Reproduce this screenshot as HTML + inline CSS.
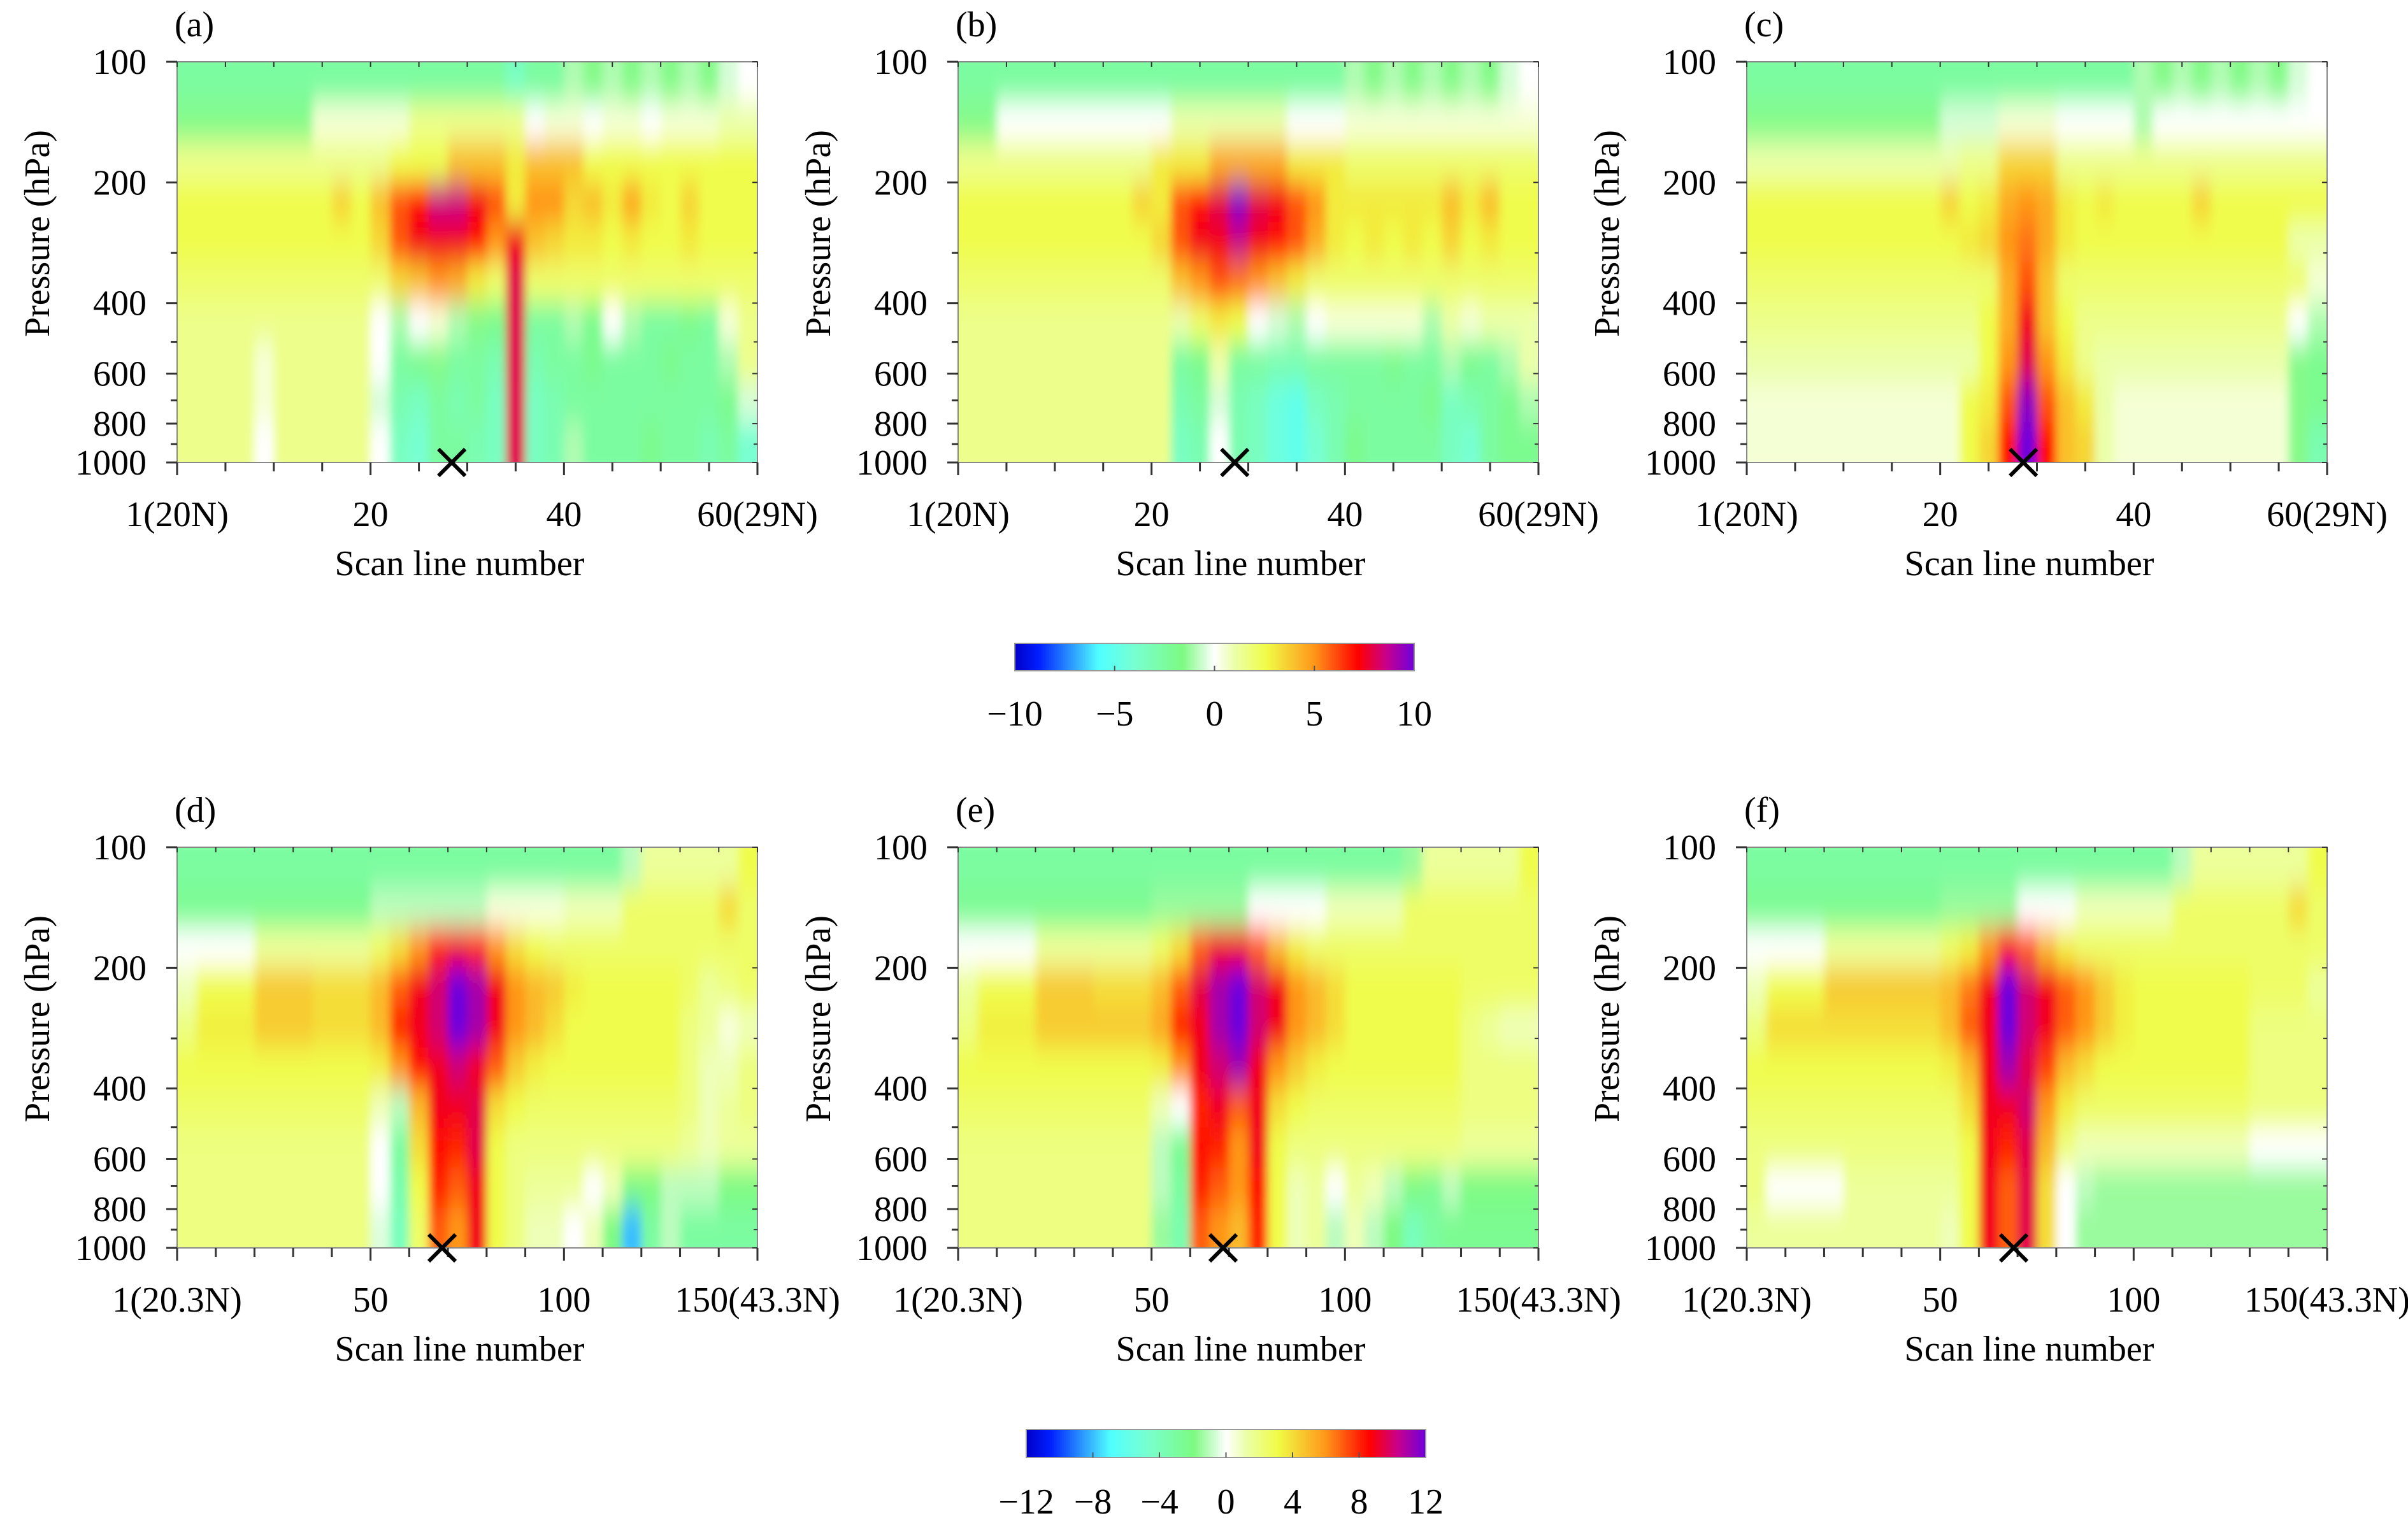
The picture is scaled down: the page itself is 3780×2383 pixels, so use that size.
<!DOCTYPE html>
<html><head><meta charset="utf-8"><style>
html,body{margin:0;padding:0;background:#fff;}
svg{display:block;}
svg text{font-family:"Liberation Serif","DejaVu Serif",serif;}
</style></head><body>
<svg id="fig" width="3780" height="2383" viewBox="0 0 3780 2383" xmlns="http://www.w3.org/2000/svg" font-family="Liberation Serif, DejaVu Serif, serif">
<defs>
<filter id="blur" x="0" y="0" width="1" height="1" filterUnits="objectBoundingBox"><feGaussianBlur stdDeviation="7 22" edgeMode="duplicate"/></filter>
</defs>
</svg>
<script>
// ---- data ----
const pressureTicks=[100,200,400,600,800,1000];
const pressureMinor=[300,500,700,900];
const topXTicks=[0,20,40,60];
const topXLabels=["1(20N)","20","40","60(29N)"];
const botXTicks=[0,50,100,150];
const botXLabels=["1(20.3N)","50","100","150(43.3N)"];
const cb1Ticks=[-10,-5,0,5,10];
const cb1Labels=["\u221210","\u22125","0","5","10"];
const cb2Ticks=[-12,-8,-4,0,4,8,12];
const cb2Labels=["\u221212","\u22128","\u22124","0","4","8","12"];
const markA=28.4, markB=28.6, markC=28.6, markD=68.5, markE=68.5, markF=69;
// rows: pressure bands top (100 hPa) -> bottom (1000 hPa); 30 columns each
const gridA=[
[-2.5,-2.5,-2.5,-2.5,-2.5,-2.5,-2.5,-2.5,-2.5,-2.5,-2.5,-2.5,-2.5,-2.5,-2.5,-2.5,-2.5,-3.5,-2.5,-2.5,-1,-1.5,-1,-1.5,-1,-1.5,-1,-1.5,-0.5,0],
[-1.5,-1.5,-1.5,-1.5,-1.5,-1.5,-1.5,0.5,0.5,0.5,0.5,0.5,1.5,1.5,1.5,1.5,1.5,1.5,0,0.5,0.5,0,0.5,0.5,0,0.5,0.5,0.5,1,1],
[1.5,1.5,1.5,1.5,1.5,1.5,1.5,1.5,1.5,1.5,1.5,2.5,2.5,2.5,4,4,4,3,4,4,4,2.5,2.5,2.5,2.5,2.5,2.5,2.5,2.5,2.5],
[2.5,2.5,2.5,2.5,2.5,2.5,2.5,2.5,3.5,2.5,4,6,7,8.5,8.5,7.5,6,3,5,5,3.5,4,3,4.5,3,2.5,3.5,2.5,2.5,2.5],
[2.5,2.5,2.5,2.5,2.5,2.5,2.5,2.5,2.5,2.5,3.5,6,7.5,7.5,7.5,7,5,7.5,4,3.5,3,3,2.5,3,2.5,2.5,3,2.5,2.5,2.5],
[2,2,2,2,2,2,2,2,2,2,2,3.5,4,5,4.5,3,2,8,2,2,2,2,2,2,2,2,2,2,2,2],
[1.5,1.5,1.5,1.5,1.5,1.5,1.5,1.5,1.5,1.5,0,-1,0,0.5,-1,-1.5,-2,8,-2.5,-2.5,-1,-2,0,-1,-2.5,-2.5,-2,-2.5,0.5,1.5],
[1.5,1.5,1.5,1.5,0.5,1.5,1.5,1.5,1.5,1.5,0,-2.5,-2,-1.5,-2.5,-2.5,-3,8,-3,-2.5,-2.5,-2,-2.5,-2.5,-2.5,-2,-2.5,-2.5,-1,1.5],
[1.5,1.5,1.5,1.5,0.5,1.5,1.5,1.5,1.5,1.5,-0.5,-3,-3.5,-2.5,-3,-2.5,-3.5,8,-3.5,-3,-2.5,-2.5,-2.5,-2.5,-2.5,-2.5,-2.5,-2.5,-2,-0.5],
[1.5,1.5,1.5,1.5,0,1.5,1.5,1.5,1.5,1.5,0,-3.5,-4,-2.5,-2.5,-3,-3.5,8,-3.5,-3,-1,-2.5,-2.5,-2.5,-2,-2.5,-2.5,-3,-2.5,-4]];
const gridB=[
[-2.5,-2.5,-2.5,-2.5,-2.5,-2.5,-2.5,-2.5,-2.5,-2.5,-2.5,-2.5,-2.5,-2.5,-2.5,-2.5,-2.5,-2.5,-2.5,-2.5,-1,-1.5,-1,-1.5,-1,-1.5,-1,-1.5,-0.5,0],
[-1.5,-1.5,0,0,0,0,0,0,0,0,0,1,1,1,1,1,1,0,0,0,0.5,0.5,0.5,0.5,0.5,0.5,0.5,0.5,0.5,0.5],
[1.5,1.5,1.5,1.5,1.5,1.5,1.5,1.5,1.5,1.5,3,3,3,4.5,4.5,4.5,4.5,3,3,3,2,2,2,2,2,2,2,2,2,2],
[2.5,2.5,2.5,2.5,2.5,2.5,2.5,2.5,2.5,3.5,3,6,7,8,9.5,8,7.5,6,5,3,3,3,3,3,3,4,3,4,2.5,2.5],
[2.5,2.5,2.5,2.5,2.5,2.5,2.5,2.5,2.5,2.5,3.5,6,7.5,7.5,8.5,7.5,7,6,4.5,3,2.5,3,2.5,3,2.5,3.5,2.5,3,2.5,2.5],
[2,2,2,2,2,2,2,2,2,2,2,4,5,6,5.5,5,4,3,2,2,2,2,2,2,2,2,2,2,2,2],
[1.5,1.5,1.5,1.5,1.5,1.5,1.5,1.5,1.5,1.5,1.5,1,2,3,2.5,0,-0.5,-1,0,0.5,0.5,0.5,0.5,0.5,-1,1,0.5,1,1,1],
[1.5,1.5,1.5,1.5,1.5,1.5,1.5,1.5,1.5,1.5,1.5,-2.5,-2,1,-2.5,-2.5,-3,-3,-2.5,-2.5,-2.5,-2.5,-2,-2.5,-2.5,-1,-2,-2.5,-1,1],
[1.5,1.5,1.5,1.5,1.5,1.5,1.5,1.5,1.5,1.5,1.5,-3,-2.5,-0.5,-3,-3.5,-4.5,-5,-3.5,-3,-2.5,-2.5,-2.5,-2.5,-2,-3.5,-3,-2.5,-2,-1],
[1.5,1.5,1.5,1.5,1.5,1.5,1.5,1.5,1.5,1.5,1.5,-3.5,-3,0,-3,-3.5,-4.5,-5,-4,-3,-2,-2.5,-2.5,-2.5,-2.5,-3.5,-4,-2.5,-2,-2]];
const gridC=[
[-2.5,-2.5,-2.5,-2.5,-2.5,-2.5,-2.5,-2.5,-2.5,-2.5,-2.5,-2.5,-2.5,-2.5,-2.5,-2.5,-2.5,-2.5,-2.5,-2.5,-1,-1.5,-1,-1.5,-1,-1.5,-1,-1.5,-0.5,0],
[-1.5,-1.5,-1.5,-1.5,-1.5,-1.5,-1.5,-1.5,-1.5,-1.5,-0.5,-0.5,-0.5,0.5,0.5,0.5,0,0,0,0,-1,0,0,0,0,0,0,0,0,0],
[1,1,1,1,1,1,1,1,1,1,1,1.5,1.5,3.5,3.5,3.5,1.5,1.5,1.5,1.5,1.5,1.5,1.5,1.5,1.5,1.5,1.5,1.5,1.5,1.5],
[2.5,2.5,2.5,2.5,2.5,2.5,2.5,2.5,2.5,2.5,3.5,2.5,3,4.5,5,4.5,3,2.5,3,2.5,2.5,2.5,2.5,3.5,2.5,2.5,2.5,2.5,2.5,2.5],
[2.5,2.5,2.5,2.5,2.5,2.5,2.5,2.5,2.5,2.5,2.5,3,3.5,5,5.5,4.5,3,2.5,2.5,2.5,2.5,2.5,2.5,2.5,2.5,2.5,2.5,2.5,1,1],
[2,2,2,2,2,2,2,2,2,2,2,2,2,4.5,6,4,2,2,2,2,2,2,2,2,2,2,2,2,2,0.5],
[1.5,1.5,1.5,1.5,1.5,1.5,1.5,1.5,1.5,1.5,1.5,1.5,2.5,4.5,7.5,4,2.5,1.5,1.5,1.5,1.5,1.5,1.5,1.5,1.5,1.5,1.5,1.5,0,-1],
[1,1,1,1,1,1,1,1,1,1,1,1,2.5,5,8,5,3,1.5,1,1,1,1,1,1,1,1,1,1,-1.5,-2],
[0.5,0.5,0.5,0.5,0.5,0.5,0.5,0.5,0.5,0.5,0.5,2.5,3,6,9.5,6,4,3,1,0.5,0.5,0.5,0.5,0.5,0.5,0.5,0.5,0.5,-1.5,-2],
[0.5,0.5,0.5,0.5,0.5,0.5,0.5,0.5,0.5,0.5,0.5,2.5,3.5,7,10,7,4,3.5,1,0.5,0.5,0.5,0.5,0.5,0.5,0.5,0.5,0.5,-1.5,-3]];
const gridD=[
[-3,-3,-3,-3,-3,-3,-3,-3,-3,-3,-3,-3,-3,-3,-3,-3,-3,-3,-3,-3,-3,-3,-3,-1,1.5,1.5,1.5,1.5,1.5,3],
[-2.5,-2.5,-2.5,-2.5,-2.5,-2.5,-2.5,-2.5,-2.5,-2.5,-1,-1,-1,-1,-1,-1,0.5,0.5,0.5,0.5,1,1,1,2.5,2.5,2.5,2.5,2.5,4,2.5],
[0,0,0,0,1.5,1.5,1.5,1.5,1.5,1.5,2.5,4,6,8,9,8,6,4,3,2.5,2.5,2.5,2.5,2.5,2.5,2.5,2.5,2.5,2.5,2.5],
[1,3,3,3,4.5,4.5,4.5,4,4,4,5,7,9,10,12,11,9,6,5,4.5,3.5,3,3,3,3,3,2.5,1.5,2,2.5],
[2,3.5,3.5,3.5,4.5,4.5,4.5,4,4,4,5,8,9,10,12,11,9,6,5,4,3,3,3,3,3,3,2,1.5,0.5,1],
[3,3,3,3,3,3,3,3,3,3,3.5,6,8.5,9,10,9,7,4.5,3.5,3,3,3,3,3,3,3,2,1,1,2],
[2.5,2.5,2.5,2.5,2.5,2.5,2.5,2.5,2.5,2.5,1,-1,5,9,9,9.5,4,3,2.5,2.5,2.5,2.5,2.5,2.5,2.5,2.5,2,1,1.5,2],
[2,2,2,2,2,2,2,2,2,2,0,-3,4,8.5,8,9.5,3,2,2,2,2,2,2,2,2,2,1.5,1,1.5,1.5],
[2,2,2,2,2,2,2,2,2,2,0,-3.5,3,8,7,9,3,2,1.5,1.5,1.5,0,1,-2,-2,-1,-1,-1,-2,-2],
[2,2,2,2,2,2,2,2,2,2,-0.5,-4,2.5,7,6,9,3,2,1,1,0,1,-2,-8,-3,-1,-3,-3,-3,-3]];
const gridE=[
[-3,-3,-3,-3,-3,-3,-3,-3,-3,-3,-3,-3,-3,-3,-3,-3,-3,-3,-3,-3,-3,-3,-3,-1.5,1.5,1.5,1.5,1.5,1.5,3],
[-2.5,-2.5,-2.5,-2.5,-2.5,-2.5,-2.5,-2.5,-2.5,-2.5,-1.5,-1.5,-1.5,-1.5,-1.5,0,0,0,0,1,1,1,1,2.5,2.5,2.5,2.5,2.5,2.5,2.5],
[0,0,0,0,1.5,1.5,1.5,1.5,1.5,1.5,2.5,4,7,9,9,7,5,3.5,2.5,2.5,2.5,2.5,2.5,2.5,2.5,2.5,2.5,2.5,2.5,2.5],
[1.5,3,3,3,4.5,4.5,4.5,4,4,4,5,7,9.5,11,12,10,9,6,5,4,3,3,3,3,3,3,2.5,2.5,2.5,2.5],
[2,3.5,3.5,3.5,4.5,4.5,4.5,4.5,4.5,4.5,5.5,8,9,11,12,10,9,6,5,4,3,3,3,3,3,3,2,1.5,1,1],
[3,3,3,3,3,3,3,3,3,3,3.5,6,9,10,11,9,6,4.5,3.5,3,3,3,3,3,3,3,2,2,2,2],
[2.5,2.5,2.5,2.5,2.5,2.5,2.5,2.5,2.5,2.5,1,0,8,9,7,9,4,3,2.5,2.5,2.5,2.5,2.5,2.5,2.5,2.5,2,2,2,2],
[2,2,2,2,2,2,2,2,2,2,-1,-2.5,8.5,8,6,9,3,2,2,2,2,2,2,2,2,2,1.5,1.5,1.5,1.5],
[2,2,2,2,2,2,2,2,2,2,-1,-3,8,7,6,8.5,3,1,1.5,0,1.5,1,-1,-2,-2.5,-1,-2,-2,-2,-2],
[2,2,2,2,2,2,2,2,2,2,-1.5,-3.5,7,6,5,8,3,1,1.5,-1,1,-1,-2,-4,-3,-2.5,-2.5,-2.5,-2.5,-2.5]];
const gridF=[
[-3,-3,-3,-3,-3,-3,-3,-3,-3,-3,-3,-3,-3,-3,-3,-3,-3,-3,-3,-3,-3,-3,-1,1.5,1.5,1.5,1.5,1.5,1.5,3],
[-2.5,-2.5,-2.5,-2.5,-2.5,-2.5,-2.5,-2.5,-2.5,-2.5,-1.5,-1.5,-1.5,-1.5,0,0,0,1,1,1,1,1,2.5,2.5,2.5,2.5,2.5,2.5,4,2.5],
[0,0,0,0,1.5,1.5,1.5,1.5,1.5,1.5,2.5,3.5,6,8.5,7,5,3.5,2.5,2.5,2.5,2.5,2.5,2.5,2.5,2.5,2.5,2.5,2.5,2.5,2.5],
[1,3,3,3,4.5,4.5,4.5,4.5,4.5,4.5,5,6.5,9,12,10,9,7,6,4.5,3.5,3,3,3,3,3,3,2.5,2.5,2.5,1.5],
[2,4,4,4,4,4,4,4,4,4,5,7,9,12,10,9,7,6,4.5,3.5,3,3,3,3,3,3,2,2,2,2],
[3,3,3,3,3,3,3,3,3,3,3.5,5,9,11,9.5,7.5,5,4,3,3,3,3,3,3,3,3,2,2,2,2],
[2.5,2.5,2.5,2.5,2.5,2.5,2.5,2.5,2.5,2.5,2.5,4,9,9,10,6,3.5,2.5,2.5,2.5,2.5,2.5,2.5,2.5,2.5,2.5,2,2,2,2],
[2,2,2,2,2,2,2,2,2,2,2,3,9,8,9.5,5,2,1,1,1,1,1,1,1,1,1,0,0,0,0],
[2,0,0,0,0,1.5,1.5,1.5,1.5,1.5,1.5,3,9,7,9.5,4,0,-1,-1.5,-1.5,-1.5,-1.5,-1.5,-1.5,-1.5,-1.5,-1.5,-1.5,-1.5,-1.5],
[1.5,1.5,1.5,1.5,1.5,1.5,1.5,1.5,1.5,1.5,1,3,9,7,9.5,4,0,-1.5,-1.5,-1.5,-1.5,-1.5,-1.5,-1.5,-1.5,-1.5,-1.5,-1.5,-1.5,-1.5]];

// ---- rendering ----
const NS="http://www.w3.org/2000/svg";
const FONT='"Liberation Serif","DejaVu Serif",serif';
const svg=document.getElementById('fig');
const stops=[[0,[0,0,200]],[0.06,[0,30,255]],[0.21,[80,255,255]],[0.3,[120,255,210]],[0.42,[125,250,130]],[0.5,[255,255,255]],[0.55,[235,255,170]],[0.63,[240,252,70]],[0.75,[255,150,25]],[0.86,[255,0,0]],[0.93,[200,0,140]],[1,[110,0,220]]];
function cmap(f){f=Math.max(0,Math.min(1,f));for(let i=1;i<stops.length;i++){if(f<=stops[i][0]){const a=stops[i-1],b=stops[i];const t=(f-a[0])/(b[0]-a[0]);const c=a[1].map((v,k)=>Math.round(v+(b[1][k]-v)*t));return `rgb(${c[0]},${c[1]},${c[2]})`;}}return 'rgb(110,0,220)';}
function el(tag,attrs,parent){const e=document.createElementNS(NS,tag);for(const k in attrs)e.setAttribute(k,attrs[k]);(parent||svg).appendChild(e);return e;}
function txt(s,attrs,parent){attrs['font-family']=FONT;const t=el('text',attrs,parent);t.style.fontFamily=FONT;t.textContent=s;return t;}

const PW=911, PH=629;
const panels=[
 {id:'a',x:278,y:97,grid:gridA,vmax:10,xmax:60,xt:topXTicks,xl:topXLabels,minor:5,mark:markA},
 {id:'b',x:1504,y:97,grid:gridB,vmax:10,xmax:60,xt:topXTicks,xl:topXLabels,minor:5,mark:markB},
 {id:'c',x:2742,y:97,grid:gridC,vmax:10,xmax:60,xt:topXTicks,xl:topXLabels,minor:5,mark:markC},
 {id:'d',x:278,y:1330,grid:gridD,vmax:12,xmax:150,xt:botXTicks,xl:botXLabels,minor:10,mark:markD},
 {id:'e',x:1504,y:1330,grid:gridE,vmax:12,xmax:150,xt:botXTicks,xl:botXLabels,minor:10,mark:markE},
 {id:'f',x:2742,y:1330,grid:gridF,vmax:12,xmax:150,xt:botXTicks,xl:botXLabels,minor:10,mark:markF}];

panels.forEach(p=>{
 const xs=v=>p.x+v/p.xmax*PW;
 const ys=pr=>p.y+Math.log10(pr/100)*PH;
 const g=el('g',{});
 
 
 const cp=el('clipPath',{id:'clip'+p.id},g);
 el('rect',{x:p.x,y:p.y,width:PW,height:PH},cp);
 const outer=el('g',{'clip-path':`url(#clip${p.id})`},g);
 const hm=el('g',{filter:'url(#blur)'},outer);
 
 
 const nr=p.grid.length, nc=p.grid[0].length;
 for(let r=0;r<nr;r++){
  const p0=100*Math.pow(10,r/nr), p1=100*Math.pow(10,(r+1)/nr);
  const y0=r===0?ys(p0)-40:ys(p0), y1=r===nr-1?ys(p1)+40:ys(p1);
  for(let c=0;c<nc;c++){
   const x0=xs(c/nc*p.xmax)-(c===0?40:0), x1=xs((c+1)/nc*p.xmax)+(c===nc-1?40:0);
   const v=p.grid[r][c];
   const cell=el('rect',{x:x0.toFixed(1),y:y0.toFixed(1),width:(x1-x0+0.6).toFixed(1),height:(y1-y0+0.6).toFixed(1),fill:cmap((v+p.vmax)/(2*p.vmax))},hm);
   
   
  }
 }
 const fr=el('rect',{x:p.x,y:p.y,width:PW,height:PH,fill:'none',stroke:'#888','stroke-width':2},g);
 
 
 pressureTicks.forEach(pr=>{
  el('line',{x1:p.x-17,x2:p.x,y1:ys(pr),y2:ys(pr),stroke:'#333','stroke-width':3},g);
  el('line',{x1:p.x+PW-8,x2:p.x+PW,y1:ys(pr),y2:ys(pr),stroke:'#333','stroke-width':2},g);
  const t=txt(String(pr),{x:p.x-48,y:ys(pr)+19,'font-size':56,'text-anchor':'end',fill:'#000'},g);
  
  
 });
 pressureMinor.forEach(pr=>{
  el('line',{x1:p.x-10,x2:p.x,y1:ys(pr),y2:ys(pr),stroke:'#333','stroke-width':3},g);
  el('line',{x1:p.x+PW-6,x2:p.x+PW,y1:ys(pr),y2:ys(pr),stroke:'#333','stroke-width':2},g);
 });
 for(let v=0;v<=p.xmax+0.01;v+=p.minor){
  const major=p.xt.indexOf(v)>=0;
  el('line',{x1:xs(v),x2:xs(v),y1:p.y+PH,y2:p.y+PH+(major?20:14),stroke:'#333','stroke-width':3},g);
  el('line',{x1:xs(v),x2:xs(v),y1:p.y,y2:p.y+8,stroke:'#333','stroke-width':2},g);
 }
 p.xt.forEach((v,i)=>{
  const t=txt(p.xl[i],{x:xs(v),y:p.y+PH+100,'font-size':56,'text-anchor':'middle',fill:'#000'},g);
  
  
 });
 const xt=txt('Scan line number',{x:p.x+PW/2-12,y:p.y+PH+177,'font-size':56,'text-anchor':'middle',fill:'#000'},g);
 
 
 const cx=p.x-220, cy=p.y+PH/2-45;
 const yt=txt('Pressure (hPa)',{x:cx,y:cy,'font-size':56,'text-anchor':'middle',fill:'#000',transform:`rotate(-90 ${cx} ${cy}) translate(0 19)`},g);
 
 
 const pl=txt('('+p.id+')',{x:p.x-4,y:p.y-40,'font-size':56,fill:'#000'},g);
 
 
 const mx=xs(p.mark), my=p.y+PH, s=21;
 const mk=el('path',{d:`M${mx-s},${my-s}L${mx+s},${my+s}M${mx+s},${my-s}L${mx-s},${my+s}`,stroke:'#000','stroke-width':6,fill:'none'},g);
 
 
});

function colorbar(x,y,w,h,vmax,ticks,labels,name,ly){
 const g=el('g',{});
 
 
 const n=200;
 for(let i=0;i<n;i++){
  const r=el('rect',{x:(x+i*w/n).toFixed(2),y:y,width:(w/n+0.8).toFixed(2),height:h,fill:cmap((i+0.5)/n)},g);
  
  
 }
 el('rect',{x:x,y:y,width:w,height:h,fill:'none',stroke:'#999','stroke-width':2},g);
 ticks.forEach((v,i)=>{
  const tx=x+(v+vmax)/(2*vmax)*w;
  if(i>0&&i<ticks.length-1)el('line',{x1:tx,x2:tx,y1:y+h-8,y2:y+h,stroke:'#555','stroke-width':2},g);
  const t=txt(labels[i],{x:tx,y:ly,'font-size':56,'text-anchor':'middle',fill:'#000'},g);
  
  
 });
}
colorbar(1593,1010,627,43,10,cb1Ticks,cb1Labels,'colorbar-top',1139);
colorbar(1611,2244,627,44,12,cb2Ticks,cb2Labels,'colorbar-bottom',2376);
</script>
</body></html>
